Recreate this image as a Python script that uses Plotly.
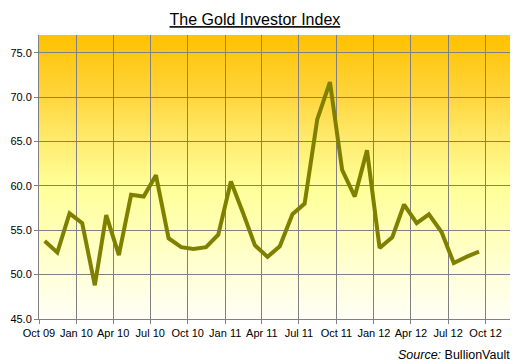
import plotly.graph_objects as go

months = ["2009-10", "2009-11", "2009-12", "2010-01", "2010-02", "2010-03", "2010-04", "2010-05", "2010-06",
          "2010-07", "2010-08", "2010-09", "2010-10", "2010-11", "2010-12", "2011-01", "2011-02", "2011-03",
          "2011-04", "2011-05", "2011-06", "2011-07", "2011-08", "2011-09", "2011-10", "2011-11", "2011-12",
          "2012-01", "2012-02", "2012-03", "2012-04", "2012-05", "2012-06", "2012-07", "2012-08", "2012-09"]
index_values = [53.8, 52.5, 56.9, 55.8, 48.8, 56.7, 52.2, 59.0, 58.8,
                61.2, 54.1, 53.1, 52.9, 53.1, 54.5, 60.5, 56.8, 53.3,
                52.0, 53.2, 56.8, 58.0, 67.5, 71.7, 61.8, 58.8, 64.0,
                53.0, 54.2, 57.9, 55.8, 56.8, 54.8, 51.3, 52.0, 52.6]
dates = [m + "-15" for m in months]

tick_vals = ["2009-10-01", "2010-01-01", "2010-04-01", "2010-07-01", "2010-10-01", "2011-01-01", "2011-04-01",
             "2011-07-01", "2011-10-01", "2012-01-01", "2012-04-01", "2012-07-01", "2012-10-01"]
tick_text = ["Oct 09", "Jan 10", "Apr 10", "Jul 10", "Oct 10", "Jan 11", "Apr 11",
             "Jul 11", "Oct 11", "Jan 12", "Apr 12", "Jul 12", "Oct 12"]
y_ticks = [45, 50, 55, 60, 65, 70, 75]
y_min, y_max = 45, 77

# gradient background stops (value -> rgb)
stops = [(45, (255, 255, 246)), (50, (255, 255, 216)), (55, (255, 255, 182)), (60, (255, 255, 152)),
         (65, (255, 236, 112)), (70, (255, 214, 62)), (77, (255, 192, 0))]


def color_at(v):
    for (a, ca), (b, cb) in zip(stops[:-1], stops[1:]):
        if a <= v <= b:
            t = (v - a) / (b - a)
            c = [round(ca[i] + (cb[i] - ca[i]) * t) for i in range(3)]
            return "rgb(%d,%d,%d)" % tuple(c)
    return "rgb(%d,%d,%d)" % stops[-1][1]


shapes = []
n = 96
step = (y_max - y_min) / n
for i in range(n):
    y0 = y_min + step * i
    y1 = min(y_max, y0 + 2 * step)
    shapes.append(dict(type="rect", xref="paper", yref="y", x0=0, x1=1, y0=y0, y1=y1,
                       fillcolor=color_at(y0 + step / 2), line=dict(width=0), layer="below"))

fig = go.Figure()
fig.add_trace(go.Scatter(x=dates, y=index_values, mode="lines",
                         line=dict(color="#808000", width=4), hoverinfo="x+y"))

font = "Arial, Liberation Sans, sans-serif"
fig.update_layout(
    width=516, height=364,
    margin=dict(l=39, r=6, t=35, b=45),
    paper_bgcolor="white", plot_bgcolor="rgba(0,0,0,0)",
    showlegend=False,
    shapes=shapes,
    title=dict(text="<u>The Gold Investor Index</u>", x=0.494, xanchor="center", y=1 - 19.5 / 364,
               yanchor="middle", font=dict(family=font, size=16, color="black")),
    font=dict(family=font, size=11, color="black"),
    xaxis=dict(type="date", range=["2009-10-01", "2012-11-30"], tickvals=tick_vals, ticktext=tick_text,
               showgrid=True, gridcolor="#808080", gridwidth=1, showline=True, linecolor="#808080",
               linewidth=1, ticks="outside", ticklen=4, tickcolor="#808080", tickfont=dict(size=11),
               zeroline=False, fixedrange=True),
    yaxis=dict(range=[y_min, y_max], tickvals=y_ticks, ticktext=["%.1f" % v for v in y_ticks],
               showgrid=True, gridcolor="#808080", gridwidth=1, showline=True, linecolor="#808080",
               linewidth=1, ticks="outside", ticklen=4, tickcolor="#808080", tickfont=dict(size=11),
               zeroline=False, fixedrange=True),
    annotations=[dict(text="<i>Source:</i> BullionVault", xref="paper", yref="paper", x=1.005, y=-36 / 284,
                      xanchor="right", yanchor="middle", showarrow=False,
                      font=dict(family=font, size=12.5, color="black"))],
)

fig.write_html("out.html", config={"displayModeBar": False},
               post_script="document.body.style.margin='0';document.body.style.overflow='hidden';")
